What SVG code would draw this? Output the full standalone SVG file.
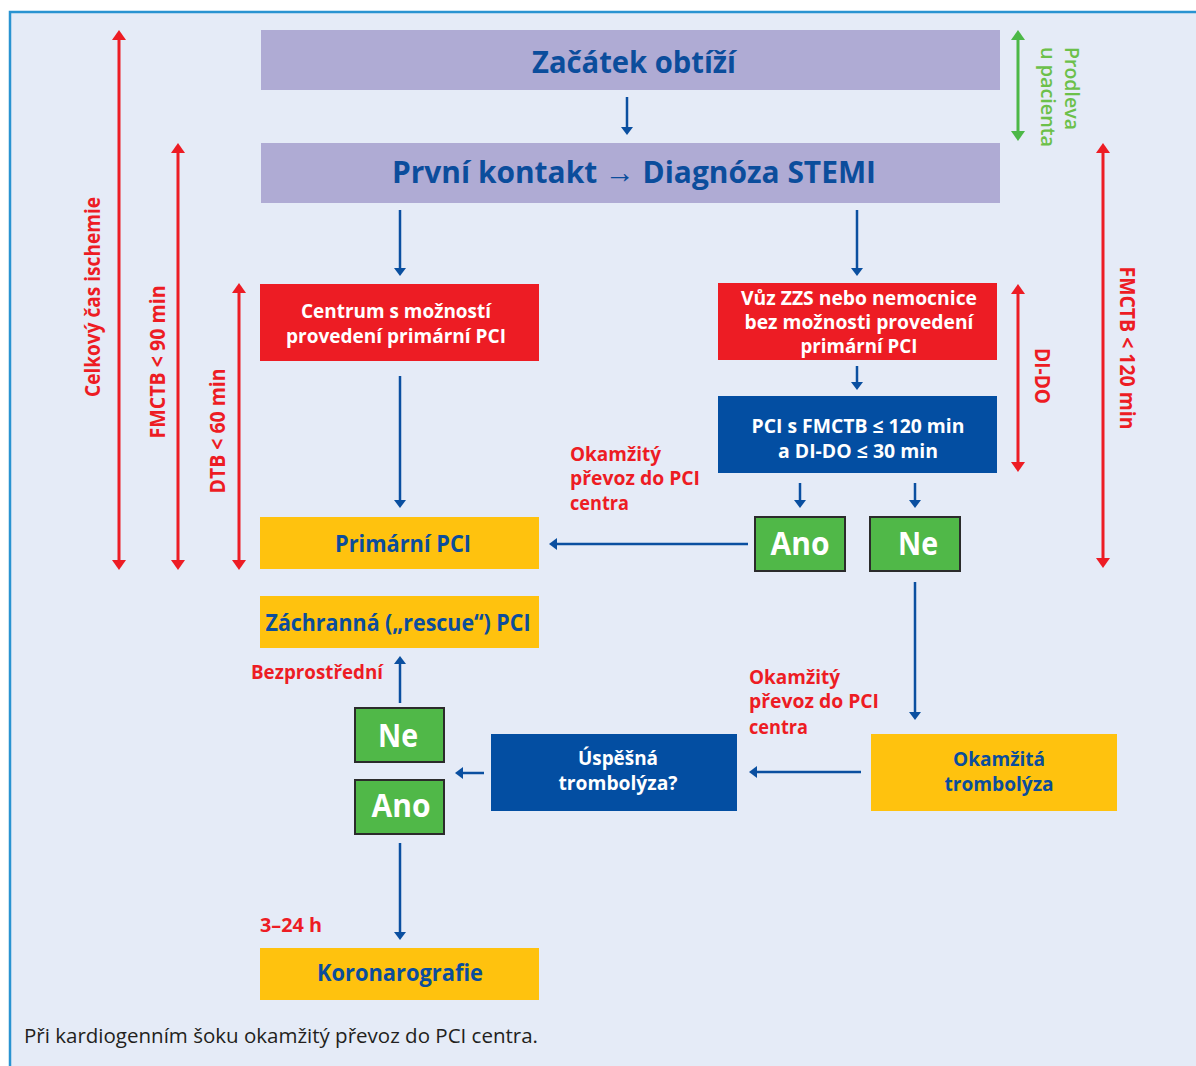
<svg xmlns="http://www.w3.org/2000/svg" width="1196" height="1066" viewBox="0 0 1196 1066">
<style>
text{font-family:"Open Sans","Noto Sans","Liberation Sans",sans-serif;}
.t{font-weight:700;text-anchor:middle;}
.title{font-size:31px;fill:#0b4d9c;}
.w{font-size:19px;fill:#ffffff;}
.y{font-size:24px;fill:#0b4d9c;}
.yn{font-size:32px;fill:#ffffff;}
.r{font-weight:700;font-size:19px;fill:#ed1c24;}
.rv{font-weight:700;font-size:21px;fill:#ed1c24;}
.gv{font-weight:600;font-size:20px;fill:#6cc04a;}
.purple{fill:#afabd4;}
.red{fill:#ed1c24;}
.blue{fill:#034ea2;}
.yel{fill:#ffc20e;}
.grn{fill:#50b848;stroke:#2b2b2b;stroke-width:2;}
.ba{stroke:#0a4fa0;stroke-width:2.5;fill:none;marker-end:url(#mb);}
.ra{stroke:#ed1c24;stroke-width:3;fill:none;marker-start:url(#mr);marker-end:url(#mr);}
.ga{stroke:#4cb847;stroke-width:3;fill:none;marker-start:url(#mg);marker-end:url(#mg);}
</style>
<defs>
<marker id="mb" viewBox="0 0 8 12" refX="2" refY="6" markerWidth="8" markerHeight="12" markerUnits="userSpaceOnUse" orient="auto" preserveAspectRatio="none"><path d="M0,0 L8,6 L0,12 Z" fill="#0a4fa0"/></marker>
<marker id="mr" viewBox="0 0 10 14" refX="2" refY="7" markerWidth="10" markerHeight="14" markerUnits="userSpaceOnUse" orient="auto-start-reverse" preserveAspectRatio="none"><path d="M0,0 L10,7 L0,14 Z" fill="#ed1c24"/></marker>
<marker id="mg" viewBox="0 0 10 14" refX="2" refY="7" markerWidth="10" markerHeight="14" markerUnits="userSpaceOnUse" orient="auto-start-reverse" preserveAspectRatio="none"><path d="M0,0 L10,7 L0,14 Z" fill="#4cb847"/></marker>
</defs>
<rect width="1196" height="1066" fill="#ffffff"/>
<rect x="10" y="12" width="1200" height="1070" fill="#e5ebf7" stroke="#2993d1" stroke-width="2.5"/>

<g id="connectors">
<line class="ba" x1="627" y1="97" x2="627" y2="129"/>
<line class="ba" x1="400" y1="210" x2="400" y2="270"/>
<line class="ba" x1="857" y1="210" x2="857" y2="270"/>
<line class="ba" x1="857" y1="366" x2="857" y2="384"/>
<line class="ba" x1="800" y1="483" x2="800" y2="502"/>
<line class="ba" x1="915" y1="483" x2="915" y2="502"/>
<line class="ba" x1="400" y1="376" x2="400" y2="502"/>
<line class="ba" x1="748" y1="544" x2="555" y2="544"/>
<line class="ba" x1="915" y1="582" x2="915" y2="714"/>
<line class="ba" x1="861" y1="772" x2="755" y2="772"/>
<line class="ba" x1="484" y1="773" x2="461" y2="773"/>
<line class="ba" x1="400" y1="703" x2="400" y2="662"/>
<line class="ba" x1="400" y1="843" x2="400" y2="934"/>
<line class="ra" x1="119" y1="38" x2="119" y2="562"/>
<line class="ra" x1="178" y1="151" x2="178" y2="562"/>
<line class="ra" x1="239" y1="291" x2="239" y2="562"/>
<line class="ra" x1="1018" y1="292" x2="1018" y2="464"/>
<line class="ra" x1="1103" y1="151" x2="1103" y2="560"/>
<line class="ga" x1="1018" y1="38" x2="1018" y2="133"/>
</g>

<g id="timeline-labels">
<text class="rv" text-anchor="middle" x="100" y="297" transform="rotate(-90 100 297)" textLength="200" lengthAdjust="spacingAndGlyphs">Celkový čas ischemie</text>
<text class="rv" text-anchor="middle" x="165" y="362" transform="rotate(-90 165 362)" textLength="153" lengthAdjust="spacingAndGlyphs">FMCTB &lt; 90 min</text>
<text class="rv" text-anchor="middle" x="225" y="431" transform="rotate(-90 225 431)" textLength="125" lengthAdjust="spacingAndGlyphs">DTB &lt; 60 min</text>
<text class="rv" text-anchor="middle" x="1120" y="348" transform="rotate(90 1120 348)" textLength="163" lengthAdjust="spacingAndGlyphs">FMCTB &lt; 120 min</text>
<text class="rv" text-anchor="middle" x="1035" y="376" transform="rotate(90 1035 376)" textLength="56" lengthAdjust="spacingAndGlyphs">DI-DO</text>
<text class="gv" x="1065" y="47" transform="rotate(90 1065 47)" textLength="83" lengthAdjust="spacingAndGlyphs">Prodleva</text>
<text class="gv" x="1041" y="47" transform="rotate(90 1041 47)" textLength="100" lengthAdjust="spacingAndGlyphs">u pacienta</text>
</g>

<g id="n-zacatek">
<rect class="purple" x="261" y="30" width="739" height="60"/>
<text class="t title" x="634" y="73" textLength="204" lengthAdjust="spacingAndGlyphs">Začátek obtíží</text>
</g>
<g id="n-kontakt">
<rect class="purple" x="261" y="143" width="739" height="60"/>
<text class="t title" x="634" y="183" textLength="484" lengthAdjust="spacingAndGlyphs">První kontakt → Diagnóza STEMI</text>
</g>
<g id="n-centrum">
<rect class="red" x="260" y="284" width="279" height="77"/>
<text class="t w" x="396" y="318" textLength="190" lengthAdjust="spacingAndGlyphs">Centrum s možností</text>
<text class="t w" x="396" y="343" textLength="220" lengthAdjust="spacingAndGlyphs">provedení primární PCI</text>
</g>
<g id="n-vuz">
<rect class="red" x="718" y="283" width="279" height="77"/>
<text class="t w" x="859" y="305" font-size="18" textLength="236" lengthAdjust="spacingAndGlyphs">Vůz ZZS nebo nemocnice</text>
<text class="t w" x="859" y="329" font-size="18" textLength="229" lengthAdjust="spacingAndGlyphs">bez možnosti provedení</text>
<text class="t w" x="859" y="353" font-size="18" textLength="117" lengthAdjust="spacingAndGlyphs">primární PCI</text>
</g>
<g id="n-pcis">
<rect class="blue" x="718" y="396" width="279" height="77"/>
<text class="t w" x="858" y="433" textLength="213" lengthAdjust="spacingAndGlyphs">PCI s FMCTB ≤ 120 min</text>
<text class="t w" x="858" y="458" textLength="160" lengthAdjust="spacingAndGlyphs">a DI-DO ≤ 30 min</text>
</g>
<g id="n-ano1">
<rect class="grn" x="755" y="517" width="90" height="54"/>
<text class="t yn" x="800" y="555" textLength="59" lengthAdjust="spacingAndGlyphs">Ano</text>
</g>
<g id="n-ne1">
<rect class="grn" x="870" y="517" width="90" height="54"/>
<text class="t yn" x="918" y="555" textLength="40" lengthAdjust="spacingAndGlyphs">Ne</text>
</g>
<g id="l-prevoz1">
<text class="r" x="570" y="461" textLength="91" lengthAdjust="spacingAndGlyphs">Okamžitý</text>
<text class="r" x="570" y="485" textLength="130" lengthAdjust="spacingAndGlyphs">převoz do PCI</text>
<text class="r" x="570" y="510" textLength="59" lengthAdjust="spacingAndGlyphs">centra</text>
</g>
<g id="n-primarni">
<rect class="yel" x="260" y="517" width="279" height="52"/>
<text class="t y" x="403" y="552" textLength="136" lengthAdjust="spacingAndGlyphs">Primární PCI</text>
</g>
<g id="n-zachranna">
<rect class="yel" x="260" y="596" width="279" height="52"/>
<text class="t y" x="398" y="631" textLength="265" lengthAdjust="spacingAndGlyphs">Záchranná („rescue“) PCI</text>
</g>
<g id="l-bezprostredni">
<text class="r" x="251" y="679" textLength="132" lengthAdjust="spacingAndGlyphs">Bezprostřední</text>
</g>
<g id="n-ne2">
<rect class="grn" x="355" y="708" width="89" height="54"/>
<text class="t yn" x="398" y="747" textLength="40" lengthAdjust="spacingAndGlyphs">Ne</text>
</g>
<g id="n-ano2">
<rect class="grn" x="355" y="780" width="89" height="54"/>
<text class="t yn" x="401" y="817" textLength="59" lengthAdjust="spacingAndGlyphs">Ano</text>
</g>
<g id="n-uspesna">
<rect class="blue" x="491" y="734" width="246" height="77"/>
<text class="t w" x="618" y="765" textLength="80" lengthAdjust="spacingAndGlyphs">Úspěšná</text>
<text class="t w" x="618" y="790" textLength="119" lengthAdjust="spacingAndGlyphs">trombolýza?</text>
</g>
<g id="n-okamzita">
<rect class="yel" x="871" y="734" width="246" height="77"/>
<text class="t" x="999" y="766" font-size="20" fill="#0b4d9c" textLength="92" lengthAdjust="spacingAndGlyphs">Okamžitá</text>
<text class="t" x="999" y="791" font-size="20" fill="#0b4d9c" textLength="109" lengthAdjust="spacingAndGlyphs">trombolýza</text>
</g>
<g id="l-prevoz2">
<text class="r" x="749" y="684" textLength="91" lengthAdjust="spacingAndGlyphs">Okamžitý</text>
<text class="r" x="749" y="708" textLength="130" lengthAdjust="spacingAndGlyphs">převoz do PCI</text>
<text class="r" x="749" y="734" textLength="59" lengthAdjust="spacingAndGlyphs">centra</text>
</g>
<g id="l-324">
<text class="r" x="260" y="932" font-size="21" textLength="62" lengthAdjust="spacingAndGlyphs">3–24 h</text>
</g>
<g id="n-koronarografie">
<rect class="yel" x="260" y="948" width="279" height="52"/>
<text class="t y" x="400" y="981" textLength="166" lengthAdjust="spacingAndGlyphs">Koronarografie</text>
</g>
<g id="footer">
<text x="24" y="1043" font-size="20" fill="#231f20" textLength="514" lengthAdjust="spacingAndGlyphs">Při kardiogenním šoku okamžitý převoz do PCI centra.</text>
</g>
</svg>
